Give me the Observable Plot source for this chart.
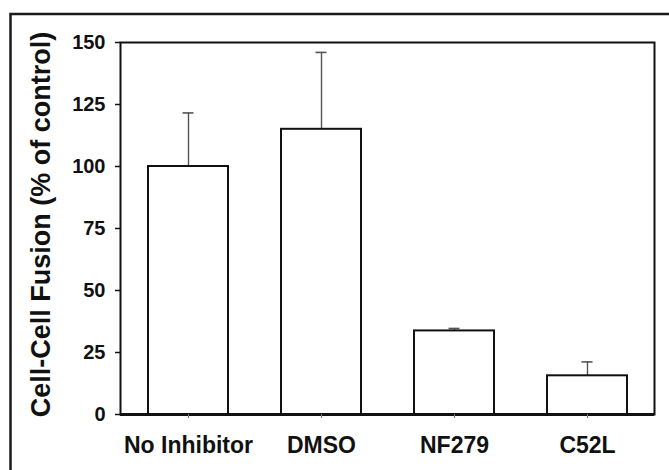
<!DOCTYPE html>
<html>
<head>
<meta charset="utf-8">
<script src="https://cdn.jsdelivr.net/npm/d3@7"></script>
<script src="https://cdn.jsdelivr.net/npm/@observablehq/plot@0.6"></script>
<style>
  html, body { margin: 0; padding: 0; background: #fff; }
  svg { font-family: "Liberation Sans", Arial, sans-serif; display: block; }
</style>
</head>
<body>
<div id="chart"></div>
<script>
const categories = ["No Inhibitor", "DMSO", "NF279", "C52L"];
const values = [100, 115, 33.7, 15.6];
const errors = [21.6, 31, 1.0, 5.6];
const yTicks = [0, 25, 50, 75, 100, 125, 150];
const yTitle = "Cell-Cell Fusion (% of control)";

const data = categories.map((c, i) => ({cat: c, v: values[i], e: values[i] + errors[i]}));

const chart = Plot.plot({
  width: 669,
  height: 470,
  marginLeft: 120,
  marginRight: 15,
  marginTop: 42,
  marginBottom: 56,
  style: {fontFamily: "'Liberation Sans', Arial, sans-serif", background: "white", overflow: "hidden"},
  x: {domain: categories, paddingInner: 0.4, paddingOuter: 0.2},
  y: {domain: [0, 150]},
  marks: [
    // outer figure border (top and left edges visible; right/bottom fall outside the picture)
    Plot.frame({stroke: "#1a1a1a", strokeWidth: 2.5, insetTop: -28.5, insetLeft: -110, insetRight: -40, insetBottom: -80}),
    Plot.frame({stroke: "#111", strokeWidth: 2}),
    Plot.ruleX(data, {x: "cat", y1: "v", y2: "e", stroke: "#555", strokeWidth: 1.4}),
    Plot.tickY(data, {x: "cat", y: "e", stroke: "#555", strokeWidth: 1.6, insetLeft: 34.5, insetRight: 34.5}),
    Plot.barY(data, {x: "cat", y: "v", fill: "white", stroke: "#111", strokeWidth: 2}),
    Plot.ruleY([0], {stroke: "#111", strokeWidth: 3}),
    Plot.axisY({ticks: yTicks, tickSize: 5, tickPadding: 10, fontSize: 20, fontWeight: "bold", label: null, stroke: "#111", strokeWidth: 1.5, fill: "#111"}),
    Plot.axisX({tickSize: 4, tickPadding: 18, fontSize: 23, fontWeight: "bold", label: null, stroke: "#777", fill: "#111"}),
    Plot.text([yTitle], {frameAnchor: "left", textAnchor: "middle", rotate: -90, lineAnchor: "top", dx: -90, dy: -4, fontSize: 27, fontWeight: "bold", fill: "#111"})
  ]
});
document.getElementById("chart").appendChild(chart);
</script>
</body>
</html>
